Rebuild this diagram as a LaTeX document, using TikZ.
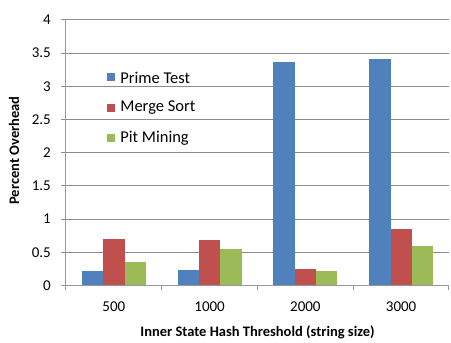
\documentclass[tikz,border=0pt]{standalone}
\usepackage{fontspec}
\setmainfont{Carlito}
\usepackage{tikz}
\usetikzlibrary{positioning}

\definecolor{primeblue}{HTML}{4F81BD}
\definecolor{mergered}{HTML}{C0504D}
\definecolor{pitgreen}{HTML}{9BBB59}
\definecolor{gridgray}{HTML}{8C8C8C}

\begin{document}
\begin{tikzpicture}[
  x=1pt, y=1pt,
  gridline/.style={draw=gridgray, line width=0.9pt},
  axisline/.style={draw=gridgray!90, line width=1pt},
  ticklabel/.style={font=\fontsize{15}{17}\selectfont, inner sep=0pt},
  axistitle/.style={font=\fontsize{14.5}{16}\selectfont\bfseries, inner sep=0pt},
  legkey/.style={rectangle, minimum size=8pt, inner sep=0pt},
  legtext/.style={font=\fontsize{16.5}{18}\selectfont, inner sep=0pt, anchor=west}
]
  \useasboundingbox (-66,-57.5) rectangle (385,285.5);
  \def\unit{66.4}
  \def\catw{95.75}

  % grid and y ticks
  \foreach \v [count=\i] in {0,0.5,1,1.5,2,2.5,3,3.5,4} {
    \ifnum\i>1 \draw[gridline] (-5,\v*\unit) -- (383,\v*\unit); \fi
    \node[ticklabel, anchor=east] (ytick\i) at (-15,\v*\unit) {\v};
  }

  % bars
  \foreach \cat/\pa/\pb/\pc [count=\i] in {500/0.22/0.70/0.36, 1000/0.23/0.69/0.545,
      2000/3.366/0.248/0.22, 3000/3.406/0.85/0.60} {
    \pgfmathsetmacro\xa{(\i-1)*\catw+16}
    \fill[primeblue] (\xa,0) rectangle ++(21.3,\pa*\unit);
    \fill[mergered] (\xa+21.3,0) rectangle ++(21.3,\pb*\unit);
    \fill[pitgreen] (\xa+42.6,0) rectangle ++(21.3,\pc*\unit);
    \node[ticklabel] (cat\i) at ({(\i-0.5)*\catw},-21.5) {\cat};
  }

  % axes
  \draw[axisline] (-5,0) -- (383,0);
  \draw[axisline] (0,0) -- (0,4*\unit);
  \draw[axisline] (-5,4*\unit) -- (0,4*\unit);
  \foreach \i in {0,...,4}
    \draw[axisline] (\i*\catw,0) -- (\i*\catw,-5);

  % titles
  \node[axistitle] (xtitle) at (191.5,-47) {Inner State Hash Threshold (string size)};
  \node[axistitle, rotate=90] (ytitle) at (-52,135) {Percent Overhead};

  % legend
  \node[legkey, fill=primeblue] (keyprime) at (45,208) {};
  \node[legkey, fill=mergered, below=22pt of keyprime] (keymerge) {};
  \node[legkey, fill=pitgreen, below=22pt of keymerge] (keypit) {};
  \node[legtext, right=5pt of keyprime] (legprime) {Prime Test};
  \node[legtext, right=5pt of keymerge] (legmerge) {Merge Sort};
  \node[legtext, right=5pt of keypit] (legpit) {Pit Mining};
\end{tikzpicture}
\end{document}
